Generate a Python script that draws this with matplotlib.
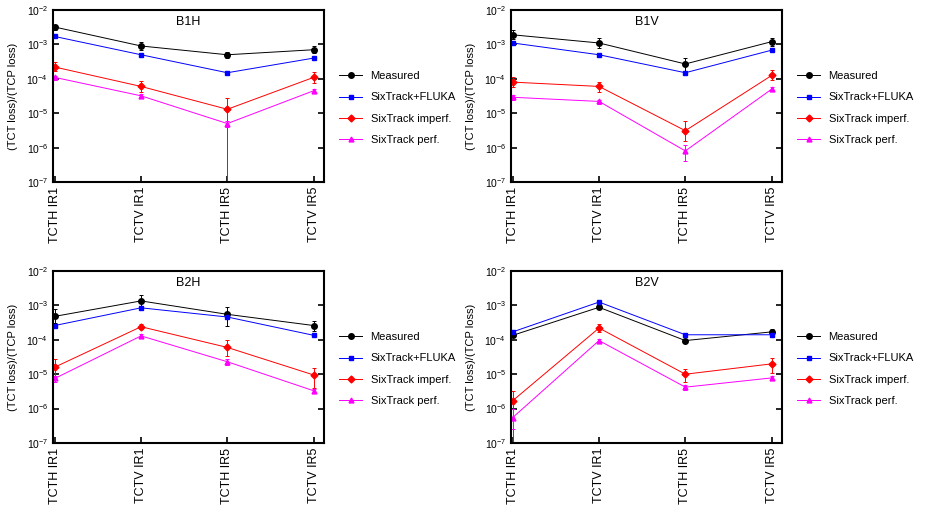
import matplotlib.pyplot as plt
import numpy as np

plt.rcParams["font.family"] = "Liberation Sans"
plt.rcParams["font.size"] = 8

collimators = ["TCTH IR1", "TCTV IR1", "TCTH IR5", "TCTV IR5"]
series_names = ["Measured", "SixTrack+FLUKA", "SixTrack imperf.", "SixTrack perf."]

# values per panel: measured, fluka, imperf, perf
b1h_meas = [3.2e-3, 9e-4, 5e-4, 7e-4]
b1h_fluka = [1.7e-3, 5e-4, 1.5e-4, 4e-4]
b1h_imperf = [2.2e-4, 6e-5, 1.3e-5, 1.1e-4]
b1h_perf = [1.1e-4, 3.2e-5, 5e-6, 4.5e-5]

b1v_meas = [1.9e-3, 1.1e-3, 2.7e-4, 1.2e-3]
b1v_fluka = [1.1e-3, 5e-4, 1.5e-4, 6.8e-4]
b1v_imperf = [8e-5, 6e-5, 3.1e-6, 1.25e-4]
b1v_perf = [2.9e-5, 2.2e-5, 8e-7, 5e-5]

b2h_meas = [4.8e-4, 1.35e-3, 5.5e-4, 2.6e-4]
b2h_fluka = [2.6e-4, 8.5e-4, 4.6e-4, 1.35e-4]
b2h_imperf = [1.6e-5, 2.4e-4, 6e-5, 9.5e-6]
b2h_perf = [7.5e-6, 1.3e-4, 2.3e-5, 3.3e-6]

b2v_meas = [1.35e-4, 8.8e-4, 9.5e-5, 1.7e-4]
b2v_fluka = [1.7e-4, 1.25e-3, 1.4e-4, 1.4e-4]
b2v_imperf = [1.7e-6, 2.2e-4, 1e-5, 2e-5]
b2v_perf = [5.5e-7, 9.5e-5, 4.2e-6, 7.8e-6]

# error bar ends (low, high)
b1h_meas_err = ([2.6e-3, 7e-4, 4e-4, 5.8e-4], [3.6e-3, 1.2e-3, 6.2e-4, 9e-4])
b1h_imperf_err = ([1.7e-4, 4.2e-5, 1e-8, 7.5e-5], [3.1e-4, 8.7e-5, 2.7e-5, 1.6e-4])
b1h_perf_err = ([9e-5, 2.7e-5, 4e-6, 4e-5], [1.2e-4, 3.6e-5, 6e-6, 5e-5])
b1v_meas_err = ([1.4e-3, 8e-4, 1.6e-4, 9e-4], [2.6e-3, 1.55e-3, 4e-4, 1.55e-3])
b1v_imperf_err = ([5.8e-5, 4.2e-5, 1.6e-6, 9e-5], [1.15e-4, 8e-5, 5.8e-6, 1.8e-4])
b1v_perf_err = ([2.5e-5, 1.9e-5, 4e-7, 4.3e-5], [3.3e-5, 2.5e-5, 1.2e-6, 5.7e-5])
b2h_meas_err = ([3e-4, 9.5e-4, 2.5e-4, 1.8e-4], [7.8e-4, 1.95e-3, 9e-4, 3.6e-4])
b2h_imperf_err = ([8e-6, 2e-4, 3.3e-5, 4e-6], [2.7e-5, 2.9e-4, 9.7e-5, 1.55e-5])
b2h_perf_err = ([6e-6, 1.1e-4, 1.9e-5, 2.8e-6], [9e-6, 1.5e-4, 2.7e-5, 3.8e-6])
b2v_meas_err = ([1.2e-4, 7.8e-4, 8.5e-5, 1.4e-4], [1.5e-4, 9.8e-4, 1.05e-4, 2e-4])
b2v_imperf_err = ([1e-8, 1.7e-4, 6e-6, 1.1e-5], [3.3e-6, 2.8e-4, 1.45e-5, 3e-5])
b2v_perf_err = ([2.6e-7, 8.5e-5, 3.5e-6, 6.6e-6], [1e-6, 1.05e-4, 4.9e-6, 9e-6])

panels = [
    ("B1H", [b1h_meas, b1h_fluka, b1h_imperf, b1h_perf], [b1h_meas_err, None, b1h_imperf_err, b1h_perf_err]),
    ("B1V", [b1v_meas, b1v_fluka, b1v_imperf, b1v_perf], [b1v_meas_err, None, b1v_imperf_err, b1v_perf_err]),
    ("B2H", [b2h_meas, b2h_fluka, b2h_imperf, b2h_perf], [b2h_meas_err, None, b2h_imperf_err, b2h_perf_err]),
    ("B2V", [b2v_meas, b2v_fluka, b2v_imperf, b2v_perf], [b2v_meas_err, None, b2v_imperf_err, b2v_perf_err]),
]

colors = ["black", "blue", "red", "magenta"]
markers = ["o", "s", "D", "^"]
msizes = [4, 3.5, 3.5, 3.5]

W, H = 926, 519
rects = [(53, 10), (511, 10), (53, 271), (511, 271)]

fig = plt.figure(figsize=(9.26, 5.19), dpi=100)
x = np.arange(len(collimators))
for (title, vals, errs), (px, py) in zip(panels, rects):
    ax = fig.add_axes([px / W, 1 - (py + 172) / H, 271 / W, 172 / H])
    for i in range(4):
        ax.plot(x, vals[i], "-", color=colors[i], marker=markers[i], ms=msizes[i],
                lw=0.7, label=series_names[i])
        if errs[i] is not None:
            v = np.array(vals[i])
            lo = v - np.array(errs[i][0])
            hi = np.array(errs[i][1]) - v
            ax.errorbar(x, v, yerr=[lo, hi], fmt="none", ecolor=colors[i],
                        elinewidth=0.7, capsize=1.5, capthick=0.7)
    ax.set_yscale("log")
    ax.set_ylim(1e-7, 1e-2)
    ax.set_xlim(-0.02, 3.12)
    ax.set_xticks(x)
    ax.set_xticklabels(collimators, rotation=90, fontsize=9)
    ax.set_yticks([1e-7, 1e-6, 1e-5, 1e-4, 1e-3, 1e-2])
    ax.yaxis.set_minor_locator(plt.NullLocator())
    ax.tick_params(direction="in", right=True, labelsize=7.5, width=1.2, length=4)
    ax.tick_params(axis="x", labelsize=9)
    for s in ax.spines.values():
        s.set_linewidth(1.5)
    ax.set_ylabel("(TCT loss)/(TCP loss)", fontsize=8, labelpad=6)
    ax.text(0.5, 0.93, title, transform=ax.transAxes, ha="center", va="center", fontsize=9)
    ax.legend(loc="center left", bbox_to_anchor=(1.02, 0.43), frameon=False,
              fontsize=8, handlelength=2.0, labelspacing=1.0)

fig.savefig("out.png", dpi=100)
